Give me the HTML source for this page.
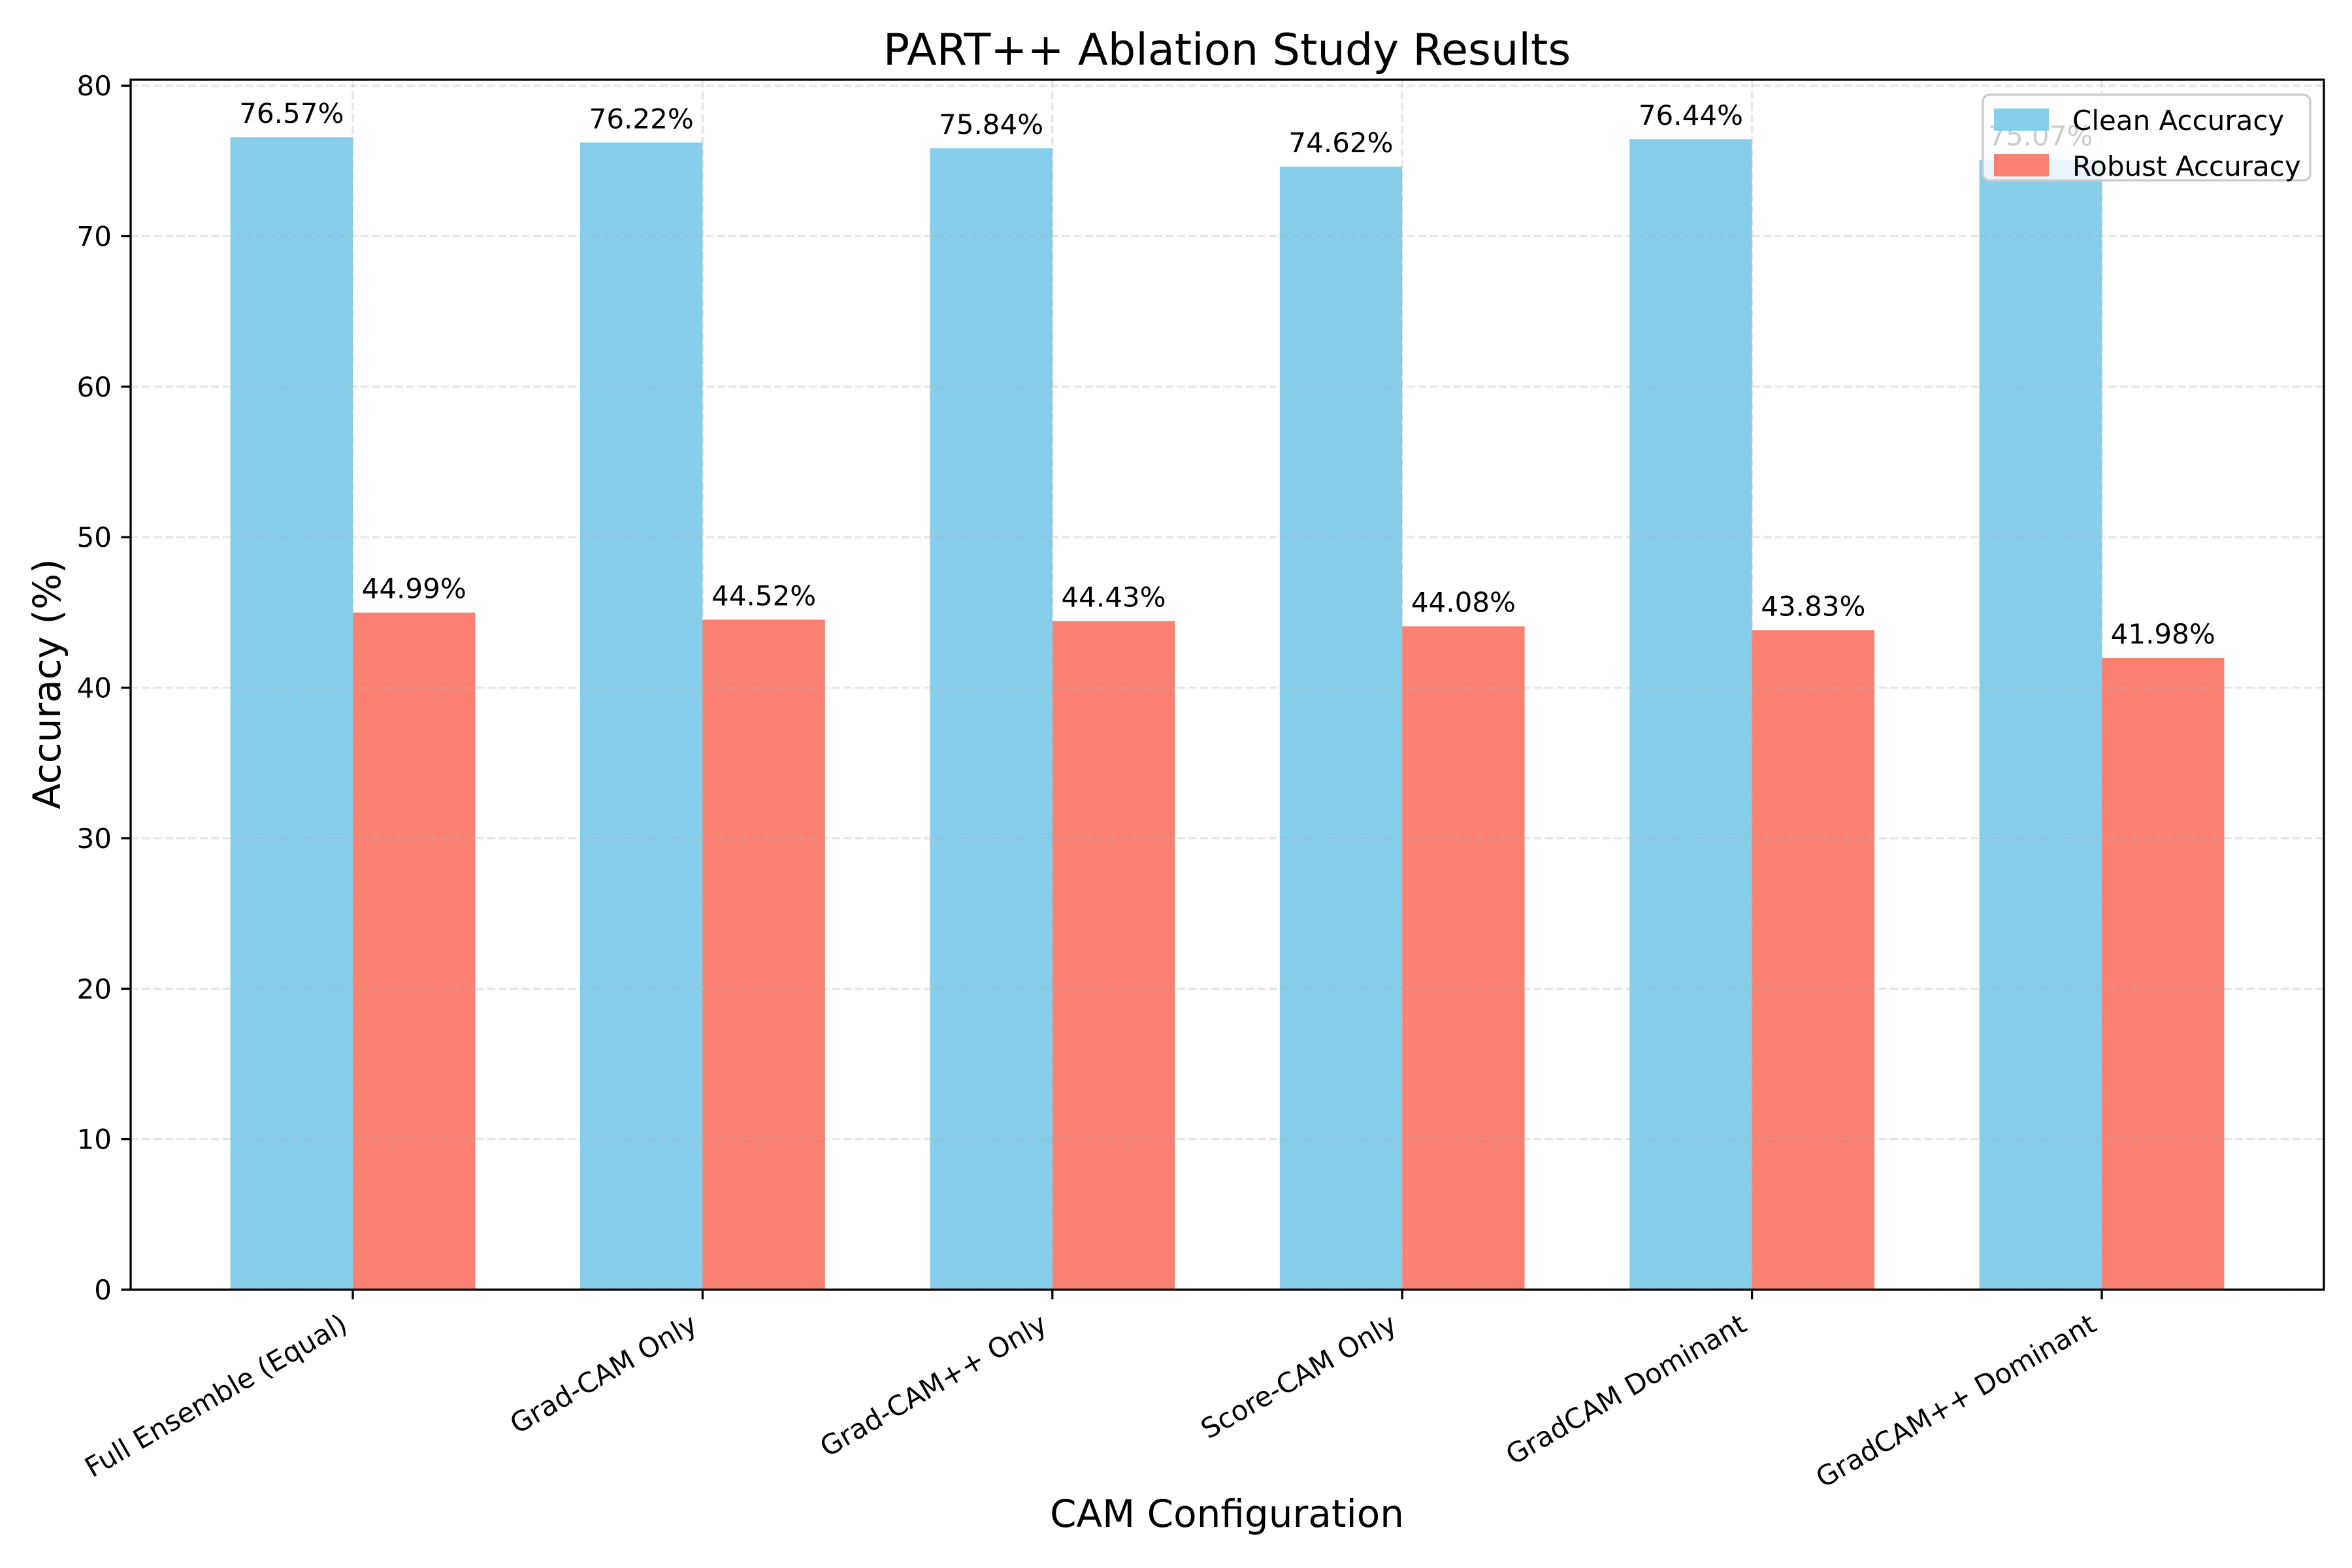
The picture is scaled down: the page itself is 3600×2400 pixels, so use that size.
<!DOCTYPE html>
<html><head><meta charset="utf-8"><style>
html,body{margin:0;padding:0;background:#fff;}
svg{display:block;font-family:"DejaVu Sans","Liberation Sans",sans-serif;}
</style></head><body>
<svg id="chart" width="3600" height="2400" viewBox="0 0 3600 2400">
<rect width="3600" height="2400" fill="#fff"/>
<g id="bars"></g><g id="grid"></g><g id="labels"></g><g id="axes"></g>
<text x="1878" y="99" font-size="67" text-anchor="middle">PART++ Ablation Study Results</text>
<text x="1878" y="2337" font-size="58" text-anchor="middle">CAM Configuration</text>
<text transform="translate(92,1047) rotate(-90)" font-size="58" text-anchor="middle">Accuracy (%)</text>
<g>
<rect x="3035" y="145" width="501" height="131" rx="10" fill="#fff" fill-opacity="0.8" stroke="#ccc" stroke-width="3.3"/>
<rect x="3052" y="166" width="84" height="34" fill="#87CEEB"/>
<text x="3172" y="199" font-size="42">Clean Accuracy</text>
<rect x="3052" y="236" width="84" height="34" fill="#FA8072"/>
<text x="3172" y="269" font-size="42">Robust Accuracy</text>
</g>
</svg>
<script>
const categories = ["Full Ensemble (Equal)","Grad-CAM Only","Grad-CAM++ Only","Score-CAM Only","GradCAM Dominant","GradCAM++ Dominant"];
const cleanValues = [76.57,76.22,75.84,74.62,76.44,75.07];
const robustValues = [44.99,44.52,44.43,44.08,43.83,41.98];
const yTicks = [0,10,20,30,40,50,60,70,80];

const NS="http://www.w3.org/2000/svg";
const L=200,R=3557,T=122,B=1974;
const xMin=-0.635,xMax=categories.length-1+0.635;
const yMax=Math.max(...cleanValues,...robustValues)*1.05;
const xs=v=>L+(v-xMin)/(xMax-xMin)*(R-L);
const ys=v=>B-v/yMax*(B-T);
const W=0.35;
function mk(tag,attrs,parent){const e=document.createElementNS(NS,tag);for(const k in attrs)e.setAttribute(k,attrs[k]);parent.appendChild(e);return e;}
const gb=document.getElementById('bars'),gg=document.getElementById('grid'),gl=document.getElementById('labels'),ga=document.getElementById('axes');
const series=[[cleanValues,'#87CEEB',-W/2,'clean'],[robustValues,'#FA8072',W/2,'robust']];
series.forEach(([vals,col,off,nm])=>{
  vals.forEach((v,i)=>{
    const x0=xs(i+off-W/2),x1=xs(i+off+W/2);
    const r=mk('rect',{x:x0,y:ys(v),width:x1-x0,height:B-ys(v),fill:col},gb);
    
    
    const t=mk('text',{x:xs(i+off),y:ys(v)-22,'font-size':42,'text-anchor':'middle'},gl);
    t.textContent=v.toFixed(2)+'%';
    
    
  });
});
const gs={stroke:'#b0b0b0','stroke-opacity':0.3,'stroke-width':3.3,'stroke-dasharray':'12.3 5.3'};
yTicks.forEach(v=>{
  const l=mk('line',Object.assign({x1:L,x2:R,y1:ys(v),y2:ys(v)},gs),gg);
  
  
  const tk=mk('line',{x1:L-14.6,x2:L,y1:ys(v),y2:ys(v),stroke:'#000','stroke-width':3.3},ga);
  
  
  const t=mk('text',{x:L-29,y:ys(v)+15,'font-size':42,'text-anchor':'end'},ga);
  t.textContent=v;
  
  
});
categories.forEach((c,i)=>{
  const x=xs(i);
  const l=mk('line',Object.assign({x1:x,x2:x,y1:T,y2:B},gs),gg);
  
  
  const tk=mk('line',{x1:x,x2:x,y1:B,y2:B+14.6,stroke:'#000','stroke-width':3.3},ga);
  
  
  const t=mk('text',{transform:`translate(${x-21},2008) rotate(-30)`,'font-size':42,'text-anchor':'end','dominant-baseline':'hanging'},ga);
  t.textContent=c;
  
  
});
const fr=mk('rect',{x:L,y:T,width:R-L,height:B-T,fill:'none',stroke:'#000','stroke-width':3.3},ga);


</script>
</body></html>
